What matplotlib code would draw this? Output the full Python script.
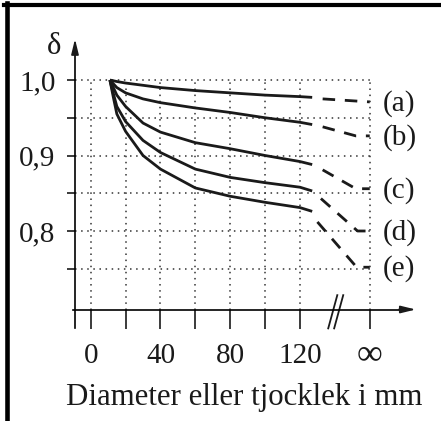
import matplotlib
matplotlib.use("Agg")
import matplotlib.pyplot as plt
from matplotlib.lines import Line2D
from matplotlib.transforms import ScaledTranslation

plt.rcParams['font.family'] = ['Liberation Serif', 'DejaVu Serif']

# measured curves, delta vs diameter (mm)
x_solid = [11, 13, 15, 20, 30, 40, 60, 80, 100, 120, 127]
delta_a = [1.0, 0.999, 0.998, 0.996, 0.993, 0.990, 0.986, 0.983, 0.980, 0.978, 0.977]
delta_b = [1.0, 0.995, 0.990, 0.983, 0.975, 0.970, 0.963, 0.957, 0.950, 0.944, 0.941]
delta_c = [1.0, 0.990, 0.980, 0.965, 0.943, 0.931, 0.917, 0.909, 0.900, 0.892, 0.888]
delta_d = [1.0, 0.982, 0.965, 0.945, 0.920, 0.904, 0.882, 0.871, 0.864, 0.858, 0.853]
delta_e = [1.0, 0.977, 0.955, 0.932, 0.900, 0.882, 0.857, 0.846, 0.838, 0.831, 0.826]

# extrapolation towards infinite size (160 stands for infinity)
x_dash = [[133, 160], [133, 152, 160], [133, 152, 160], [132, 153, 160], [130, 152.5, 160]]
y_dash = [[0.975, 0.971], [0.938, 0.926, 0.926], [0.881, 0.856, 0.856],
          [0.843, 0.80, 0.80], [0.812, 0.752, 0.752]]
curve_labels = ['(a)', '(b)', '(c)', '(d)', '(e)']

x_ticks = [0, 20, 40, 60, 80, 100, 120, 160]
x_ticklabels = ['0', '', '40', '', '80', '', '120', '∞']
y_ticks = [0.75, 0.80, 0.85, 0.90, 0.95, 1.0]
y_ticklabels = ['', '0,8', '', '0,9', '', '1,0']

fig = plt.figure(figsize=(4.41, 4.21), dpi=100)
ax = fig.add_axes([0, 0, 1, 1])
ax.set_xlim(-52.0, 200.86)
ax.set_ylim(0.5483, 1.106)
ax.patch.set_visible(False)

ink = '#1a1a1a'

# dotted grid
ax.vlines(x_ticks, 0.696, 1.0, colors='#333333', linestyles=(0, (1, 3)), lw=1.1)
ax.hlines(y_ticks, -9, 160, colors='#333333', linestyles=(0, (1, 3)), lw=1.1)

solid = [delta_a, delta_b, delta_c, delta_d, delta_e]
for ys, xd, yd, lab in zip(solid, x_dash, y_dash, curve_labels):
    ax.plot(x_solid, ys, color=ink, lw=2.0, solid_capstyle='butt', solid_joinstyle='round')
    ax.plot(xd, yd, color=ink, lw=2.0, dashes=(4.5, 3.5))
    ax.text(167.5, yd[-1] - 0.002, lab, fontsize=21, color=ink, ha='left', va='center')

# axes with arrows
for s in ['top', 'right']:
    ax.spines[s].set_visible(False)
ax.spines['left'].set_position(('data', -9))
ax.spines['bottom'].set_position(('data', 0.696))
ax.spines['left'].set_bounds(0.671, 1.045)
ax.spines['bottom'].set_bounds(-10, 180)
ax.spines['left'].set_linewidth(1.2)
ax.spines['bottom'].set_linewidth(1.2)
ax.annotate('', xy=(-9, 1.058), xytext=(-9, 1.03),
            arrowprops=dict(arrowstyle='-|>,head_length=0.9,head_width=0.22', color=ink, lw=1.2))
ax.annotate('', xy=(188, 0.696), xytext=(175, 0.696),
            arrowprops=dict(arrowstyle='-|>,head_length=0.9,head_width=0.22', color=ink, lw=1.2))

# axis break
for x0 in [136.2, 139.6]:
    ax.plot([x0, x0 + 5.2], [0.671, 0.715], color=ink, lw=1.3)

ax.set_xticks(x_ticks)
ax.set_xticklabels(x_ticklabels)
ax.set_yticks(y_ticks)
ax.set_yticklabels(y_ticklabels)
ax.tick_params(axis='x', direction='out', length=14, width=1.2, pad=10, labelsize=21, colors=ink)
ax.tick_params(axis='y', direction='out', length=6, width=1.2, pad=8, labelsize=21, colors=ink)

# larger infinity sign, nudged up to sit level with the digits
inf_label = ax.get_xticklabels()[-1]
inf_label.set_fontsize(26)
inf_label.set_transform(inf_label.get_transform() + ScaledTranslation(0, 5 / 100, fig.dpi_scale_trans))

ax.set_xlabel('Diameter eller tjocklek i mm', fontsize=22.2, color=ink)
ax.xaxis.set_label_coords(88.2, 0.579, transform=ax.transData)
ax.xaxis.label.set_va('center')
ax.set_ylabel('δ', fontsize=22, color=ink, rotation=0)
ax.yaxis.set_label_coords(-21, 1.044, transform=ax.transData)
ax.yaxis.label.set_va('center')
ax.yaxis.label.set_ha('center')

# frame on left and top
fig.add_artist(Line2D([6.5 / 441, 6.5 / 441], [0, 1 - 3 / 421], color='black', lw=3.3))
fig.add_artist(Line2D([4.2 / 441, 1], [1 - 5.2 / 421, 1 - 5.2 / 421], color='black', lw=3.0))

fig.savefig('out.png', dpi=100)
